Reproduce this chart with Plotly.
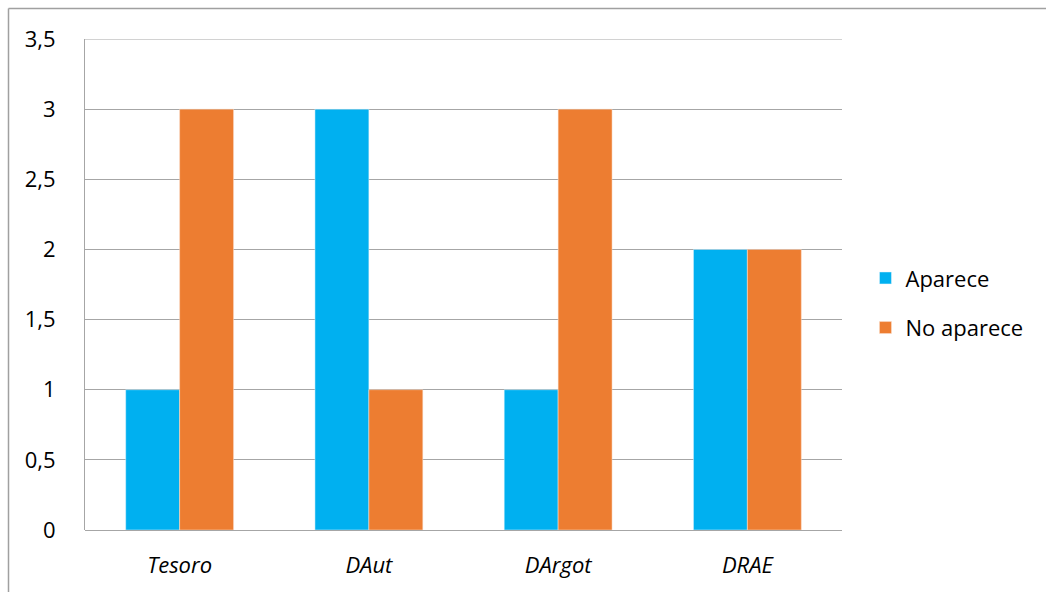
import plotly.graph_objects as go

categories = ["Tesoro", "DAut", "DArgot", "DRAE"]
aparece = [1, 3, 1, 2]
no_aparece = [3, 1, 3, 2]

FONT = "Open Sans, Noto Sans, sans-serif"
GRID = "#A6A6A6"

fig = go.Figure()
fig.add_trace(go.Bar(
    x=categories, y=aparece, name="Aparece",
    marker=dict(color="#00B0F0", line=dict(color="#E8F6FC", width=0.5)),
    legendgroup="a",
))
fig.add_trace(go.Bar(
    x=categories, y=no_aparece, name="No aparece",
    marker=dict(color="#ED7D31", line=dict(color="#FBE3D3", width=0.5)),
    legendgroup="b",
))

# outer chart frame (left and top edges fall inside the page)
px_x = lambda p: (p - 85) / 757
px_y = lambda p: (530 - p) / 491
frame = dict(type="line", xref="paper", yref="paper",
             line=dict(color="#A0A0A0", width=1.5), layer="above")

fig.update_layout(
    width=1046, height=592,
    margin=dict(l=85, r=204, t=39, b=62),
    paper_bgcolor="white", plot_bgcolor="white",
    separators=",.",
    barmode="group", bargap=0.43, bargroupgap=0,
    font=dict(family=FONT, size=22, color="#000000"),
    legend=dict(
        x=1.031, y=0.462, xanchor="left", yanchor="middle",
        font=dict(family=FONT, size=22, color="#000000"),
        tracegroupgap=18, itemwidth=30,
    ),
    xaxis=dict(
        tickfont=dict(family=FONT, size=22, color="#000000", style="italic"),
        showgrid=False, showline=False, ticks="", ticklabelstandoff=20,
    ),
    yaxis=dict(
        range=[0, 3.5], dtick=0.5, tick0=0,
        showgrid=True, gridcolor=GRID, gridwidth=1,
        zeroline=True, zerolinecolor=GRID, zerolinewidth=1,
        showline=True, linecolor=GRID, linewidth=1,
        ticks="", ticklabelstandoff=24,
        tickfont=dict(family=FONT, size=22, color="#000000"),
    ),
    shapes=[
        # top gridline at 3,5
        dict(type="line", xref="paper", yref="y", x0=0, x1=1, y0=3.5, y1=3.5,
             line=dict(color=GRID, width=1)),
        dict(frame, x0=px_x(8.5), x1=px_x(1046), y0=px_y(8.5), y1=px_y(8.5)),
        dict(frame, x0=px_x(8.5), x1=px_x(8.5), y0=px_y(8.5), y1=px_y(600)),
    ],
)

fig.write_html("out.html")
